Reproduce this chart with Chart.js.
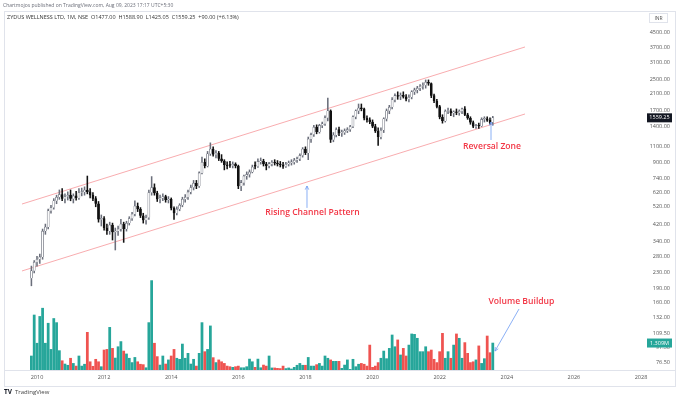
<!DOCTYPE html>
<html><head><meta charset="utf-8">
<script src="https://cdn.jsdelivr.net/npm/chart.js@4"></script>
<style>html,body{margin:0;padding:0;background:#fff}#wrap{width:680px;height:399px;position:relative}</style>
</head><body><div id="wrap"><canvas id="c" width="680" height="399"></canvas></div>
<script>
// ---------- DATA ----------
const firstMonth = {year: 2009, month: 11};   // first monthly candle: Nov 2009
const open = [
  215, 236,
  262, 272, 280, 385, 405, 495, 515, 560, 585, 605, 575, 590,
  600, 575, 595, 580, 620, 625, 640, 625, 600, 575, 540, 445,
  450, 400, 385, 415, 380, 385, 395, 420, 395, 425, 450, 475,
  525, 505, 465, 440, 455, 620, 660, 615, 570, 580, 590, 565,
  570, 510, 480, 505, 530, 570, 585, 625, 660, 695, 670, 790,
  900, 860, 1000, 1060, 990, 1010, 940, 915, 870, 875, 865, 880,
  860, 670, 700, 760, 775, 800, 870, 855, 905, 915, 880, 860,
  880, 900, 890, 880, 870, 855, 880, 895, 900, 925, 940, 980,
  1060, 1010, 1200, 1270, 1390, 1310, 1420, 1450, 1560, 1700, 1190, 1260,
  1350, 1290, 1300, 1330, 1350, 1400, 1580, 1700, 1760, 1740, 1550, 1520,
  1480, 1400, 1320, 1230, 1340, 1540, 1700, 1780, 1950, 2050, 2030, 2060,
  2020, 1960, 2010, 2150, 2200, 2250, 2300, 2330, 2420, 2380, 2050, 1920,
  1790, 1570, 1500, 1690, 1700, 1650, 1680, 1660, 1690, 1740, 1620, 1550,
  1470, 1400, 1420, 1410, 1530, 1540, 1510, 1477
];
const high = [
  250, 268,
  282, 290, 395, 420, 505, 530, 575, 600, 640, 650, 610, 625,
  640, 610, 630, 650, 655, 665, 760, 650, 620, 590, 555, 470,
  460, 420, 430, 425, 400, 410, 445, 430, 435, 460, 485, 560,
  545, 515, 480, 470, 640, 755, 690, 630, 600, 610, 600, 590,
  580, 520, 520, 540, 585, 605, 640, 680, 720, 720, 800, 960,
  940, 1030, 1145, 1090, 1040, 1030, 990, 930, 905, 910, 905, 895,
  870, 720, 770, 800, 820, 870, 905, 940, 950, 935, 900, 900,
  920, 930, 920, 910, 900, 900, 915, 930, 945, 960, 1000, 1080,
  1090, 1230, 1290, 1420, 1430, 1440, 1480, 1600, 1990, 1720, 1300, 1380,
  1390, 1340, 1360, 1380, 1420, 1600, 1720, 1850, 1850, 1760, 1600, 1560,
  1520, 1440, 1380, 1380, 1560, 1740, 1820, 2000, 2100, 2150, 2120, 2150,
  2080, 2070, 2180, 2250, 2300, 2350, 2400, 2490, 2490, 2400, 2090, 1960,
  1820, 1620, 1720, 1760, 1740, 1700, 1740, 1720, 1760, 1790, 1650, 1580,
  1500, 1440, 1460, 1560, 1580, 1580, 1560, 1588.9
];
const low = [
  196, 230,
  250, 258, 272, 370, 395, 480, 505, 540, 570, 560, 545, 565,
  560, 545, 565, 570, 595, 600, 610, 580, 560, 520, 430, 410,
  390, 370, 370, 345, 305, 365, 385, 335, 385, 415, 440, 465,
  490, 455, 425, 420, 445, 600, 600, 555, 545, 560, 550, 545,
  500, 445, 470, 495, 520, 550, 570, 610, 640, 650, 660, 780,
  840, 850, 980, 970, 950, 920, 900, 820, 830, 845, 840, 840,
  650, 635, 680, 730, 750, 790, 830, 845, 880, 860, 820, 840,
  860, 870, 860, 850, 835, 845, 860, 870, 880, 900, 920, 960,
  990, 930, 1150, 1240, 1280, 1290, 1380, 1420, 1500, 1150, 1160, 1230,
  1250, 1240, 1270, 1300, 1320, 1380, 1540, 1640, 1700, 1520, 1480, 1450,
  1380, 1300, 1110, 1200, 1300, 1500, 1640, 1740, 1900, 1960, 1950, 1990,
  1920, 1900, 1970, 2080, 2120, 2180, 2220, 2250, 2330, 2000, 1880, 1760,
  1540, 1460, 1480, 1640, 1600, 1580, 1620, 1610, 1640, 1600, 1530, 1440,
  1380, 1370, 1370, 1400, 1480, 1490, 1440, 1425.05
];
const close = [
  236, 262,
  272, 280, 385, 405, 495, 515, 560, 585, 605, 575, 590, 600,
  575, 595, 580, 620, 625, 640, 625, 600, 575, 540, 445, 450,
  400, 385, 415, 380, 385, 395, 420, 395, 425, 450, 475, 525,
  505, 465, 440, 455, 620, 660, 615, 570, 580, 590, 565, 570,
  510, 480, 505, 530, 570, 585, 625, 660, 695, 670, 790, 900,
  860, 1000, 1060, 990, 1010, 940, 915, 870, 860, 865, 880, 860,
  670, 700, 760, 775, 800, 850, 855, 910, 915, 880, 860, 885,
  900, 890, 880, 870, 855, 880, 895, 900, 925, 940, 980, 1060,
  1010, 1200, 1270, 1390, 1310, 1420, 1450, 1560, 1700, 1190, 1260, 1350,
  1290, 1300, 1330, 1350, 1400, 1580, 1700, 1760, 1740, 1550, 1520, 1480,
  1400, 1320, 1230, 1340, 1540, 1700, 1780, 1950, 2050, 2030, 2060, 2020,
  1960, 2010, 2150, 2200, 2250, 2300, 2330, 2420, 2380, 2050, 1920, 1790,
  1570, 1500, 1690, 1700, 1650, 1680, 1660, 1690, 1740, 1620, 1550, 1470,
  1400, 1420, 1410, 1530, 1540, 1510, 1469.25, 1559.25
];
// monthly volume, millions of shares
const volume = [
  0.68, 2.67,
  1.3, 2.6, 3.0, 1.3, 2.27, 1.0, 2.5, 2.3, 0.94, 0.45, 0.29, 0.23,
  0.57, 0.32, 0.19, 0.68, 0.19, 0.28, 1.83, 0.4, 0.18, 0.52, 0.4, 0.16,
  0.97, 1.0, 2.07, 1.05, 0.58, 1.13, 1.38, 0.92, 0.78, 0.57, 0.36, 0.61,
  0.4, 0.28, 0.26, 0.11, 2.3, 4.34, 1.3, 0.65, 0.24, 0.68, 0.29, 0.49,
  0.68, 1.0, 0.57, 0.52, 1.26, 0.57, 0.81, 0.29, 0.52, 0.19, 0.81, 2.3,
  0.89, 1.0, 2.14, 0.6, 0.36, 0.49, 0.4, 0.32, 0.19, 0.16, 0.13, 0.16,
  0.19, 0.11, 0.11, 0.16, 0.53, 0.4, 0.13, 0.53, 0.11, 0.24, 0.19, 0.68,
  0.1, 0.1, 0.08, 0.07, 0.19, 0.07, 0.1, 0.05, 0.13, 0.23, 0.32, 0.23,
  0.23, 0.61, 0.19, 0.19, 0.26, 0.32, 0.19, 0.68, 0.57, 0.49, 0.42, 0.42,
  0.42, 0.08, 0.24, 0.49, 0.03, 0.52, 0.16, 0.28, 0.32, 0.28, 0.19, 1.21,
  0.13, 0.19, 0.36, 0.57, 0.92, 0.55, 1.05, 1.7, 1.13, 1.46, 0.73, 1.05,
  0.68, 1.21, 1.75, 1.73, 1.54, 0.89, 0.89, 1.13, 0.89, 0.97, 0.52, 0.36,
  0.89, 1.78, 0.57, 0.89, 0.57, 1.21, 1.75, 1.54, 0.57, 1.33, 0.81, 0.36,
  0.4, 0.49, 1.17, 0.32, 0.55, 1.65, 0.84, 1.309
];
const yearTicks = [2010, 2012, 2014, 2016, 2018, 2020, 2022, 2024, 2026, 2028];
const priceTicks = [4500, 3700, 3100, 2500, 2100, 1700, 1400, 1100, 900, 740, 620, 520, 420, 340, 280, 230, 190, 160, 132, 109.5, 91.5, 76.5];
// channel trend lines: [year, price]
const channelUpper = [[2009.553, 538], [2024.543, 3740]];
const channelLower = [[2009.553, 235.4], [2024.543, 1635]];
// text notes: [text, year, price-or-volume, axis]
const notes = [
  ['Rising Channel Pattern', 2018.21, 481.7, 'y'],
  ['Reversal Zone', 2023.559, 1088, 'y'],
  ['Volume Buildup', 2024.438, 3.30, 'v']
];
// arrows: [yearFrom, valueFrom, yearTo, valueTo, axis]
const arrows = [
  [2018.046, 512.7, 2018.046, 672, 'y'],
  [2023.53, 1186, 2023.53, 1481, 'y'],
  [2024.364, 2.96, 2023.649, 0.92, 'v']
];
const headerText = 'Chartmojos published on TradingView.com, Aug 09, 2023 17:17 UTC+5:30';
const legendText = 'ZYDUS WELLNESS LTD, 1M, NSE  O1477.00  H1588.90  L1425.05  C1559.25  +90.00 (+6.13%)';

// ---------- BUILD ----------
const months = open.map((_, i) => {
  const k = firstMonth.month - 1 + i;
  return firstMonth.year + Math.floor(k / 12) + (k % 12) / 12;
});
const isUp = close.map((c, i) => c >= open[i]);
const UPC = '#26a69a', DNC = '#ef5350';
const FONT = "'Open Sans', 'DejaVu Sans', sans-serif";

const wicks = months.map((t, i) => ({x: t, y: [low[i], high[i]]}));
const bodies = months.map((t, i) => ({x: t, y: [open[i], close[i]]}));
const vols = months.map((t, i) => ({x: t, y: volume[i]}));

// price scale: log, 81 px per e-fold, plot 12..370
const yMax = 5760, yMin = 69.3;
const xMin = 2009.0464, xMax = 2028.149;
const vMax = 17.38;

const overlay = {
  id: 'overlay',
  afterDraw(chart) {
    const {ctx, scales} = chart;
    const x = scales.x, y = scales.y, v = scales.yv;
    const py = (val, ax) => ax === 'v' ? v.getPixelForValue(val) : y.getPixelForValue(val);
    ctx.save();
    // frame
    ctx.strokeStyle = '#e0e3eb'; ctx.lineWidth = 1;
    ctx.strokeRect(4.5, 11.5, 671, 375);
    ctx.beginPath(); ctx.moveTo(5, 370.5); ctx.lineTo(675, 370.5); ctx.stroke();
    // header
    ctx.fillStyle = '#6a6d78'; ctx.textBaseline = 'middle'; ctx.textAlign = 'left';
    ctx.font = '5px ' + FONT;
    ctx.fillText(headerText, 3, 6);
    ctx.fillStyle = '#333'; ctx.font = '5.5px ' + FONT;
    ctx.fillText(legendText, 7, 17.5);
    // INR box
    ctx.strokeStyle = '#e0e3eb';
    ctx.strokeRect(649.5, 13.5, 18, 9);
    ctx.fillStyle = '#555'; ctx.font = '5px ' + FONT; ctx.textAlign = 'center';
    ctx.fillText('INR', 658.5, 18.5);
    // notes
    ctx.fillStyle = '#f23645'; ctx.font = '600 8.6px ' + FONT;
    notes.forEach(([t, yr, val, ax]) => ctx.fillText(t, x.getPixelForValue(yr), py(val, ax)));
    // arrows
    ctx.strokeStyle = '#6d9cf2'; ctx.lineWidth = 0.8;
    arrows.forEach(([x0, v0, x1, v1, ax]) => {
      const X0 = x.getPixelForValue(x0), Y0 = py(v0, ax), X1 = x.getPixelForValue(x1), Y1 = py(v1, ax);
      const a = Math.atan2(Y1 - Y0, X1 - X0), L = 4;
      ctx.beginPath(); ctx.moveTo(X0, Y0); ctx.lineTo(X1, Y1);
      ctx.moveTo(X1 - L * Math.cos(a - 0.45), Y1 - L * Math.sin(a - 0.45));
      ctx.lineTo(X1, Y1);
      ctx.lineTo(X1 - L * Math.cos(a + 0.45), Y1 - L * Math.sin(a + 0.45));
      ctx.stroke();
    });
    // last price badge
    const n = close.length - 1;
    const lp = y.getPixelForValue(close[n]);
    ctx.fillStyle = '#131722'; ctx.fillRect(647, lp - 4.5, 25, 9);
    ctx.fillStyle = '#fff'; ctx.font = '5.5px ' + FONT; ctx.textAlign = 'center';
    ctx.fillText(close[n].toFixed(2), 659.5, lp);
    // last volume badge
    const lv = v.getPixelForValue(volume[n]);
    ctx.fillStyle = isUp[n] ? UPC : DNC; ctx.fillRect(647, lv - 4.5, 25, 9);
    ctx.fillStyle = '#fff';
    ctx.fillText(volume[n].toFixed(3) + 'M', 659.5, lv);
    // logo
    ctx.textAlign = 'left'; ctx.fillStyle = '#131722'; ctx.font = 'bold 6.5px ' + FONT;
    ctx.fillText('TV', 4, 392.5);
    ctx.fillStyle = '#444'; ctx.font = '6px ' + FONT;
    ctx.fillText('TradingView', 15, 392.5);
    ctx.restore();
  }
};

new Chart(document.getElementById('c'), {
  type: 'bar',
  data: {
    datasets: [
      {type: 'line', data: channelUpper.map(([a, b]) => ({x: a, y: b})), borderColor: '#f7a3a6', borderWidth: 0.9, pointRadius: 0, yAxisID: 'y', order: 5},
      {type: 'line', data: channelLower.map(([a, b]) => ({x: a, y: b})), borderColor: '#f7a3a6', borderWidth: 0.9, pointRadius: 0, yAxisID: 'y', order: 5},
      {data: vols, yAxisID: 'yv', backgroundColor: isUp.map(u => u ? UPC : DNC), barThickness: 2.1, grouped: false, order: 4},
      {data: wicks, yAxisID: 'y', backgroundColor: isUp.map(u => u ? '#6b6f7b' : '#111'), barThickness: 0.9, grouped: false, order: 2},
      {data: bodies, yAxisID: 'y', backgroundColor: isUp.map(u => u ? '#ffffff' : '#111'), borderColor: isUp.map(u => u ? '#5f6370' : '#111'), borderWidth: 0.6, barThickness: 2.1, minBarLength: 1, grouped: false, order: 1}
    ]
  },
  options: {
    responsive: false, animation: false, devicePixelRatio: 1,
    layout: {padding: {left: 5, top: 12, right: 10, bottom: 0}},
    plugins: {legend: {display: false}, tooltip: {enabled: false}},
    scales: {
      x: {type: 'linear', min: xMin, max: xMax, offset: false,
        afterBuildTicks: s => { s.ticks = yearTicks.map(v => ({value: v})); },
        afterFit: s => { s.height = 29; },
        grid: {display: false, drawTicks: false}, border: {display: false},
        ticks: {callback: v => String(v), font: {size: 5.5, family: FONT}, color: '#555', padding: 4, maxRotation: 0, autoSkip: false}},
      y: {type: 'logarithmic', position: 'right', min: yMin, max: yMax,
        afterBuildTicks: s => { s.ticks = priceTicks.map(v => ({value: v})); },
        afterFit: s => { s.width = 24; },
        grid: {display: false, drawTicks: false}, border: {display: false},
        ticks: {callback: v => Number(v).toFixed(2), font: {size: 5.5, family: FONT}, color: '#555', padding: 2, crossAlign: 'far', autoSkip: false}},
      yv: {type: 'linear', display: false, min: 0, max: vMax}
    }
  },
  plugins: [overlay]
});
</script>
</body></html>
